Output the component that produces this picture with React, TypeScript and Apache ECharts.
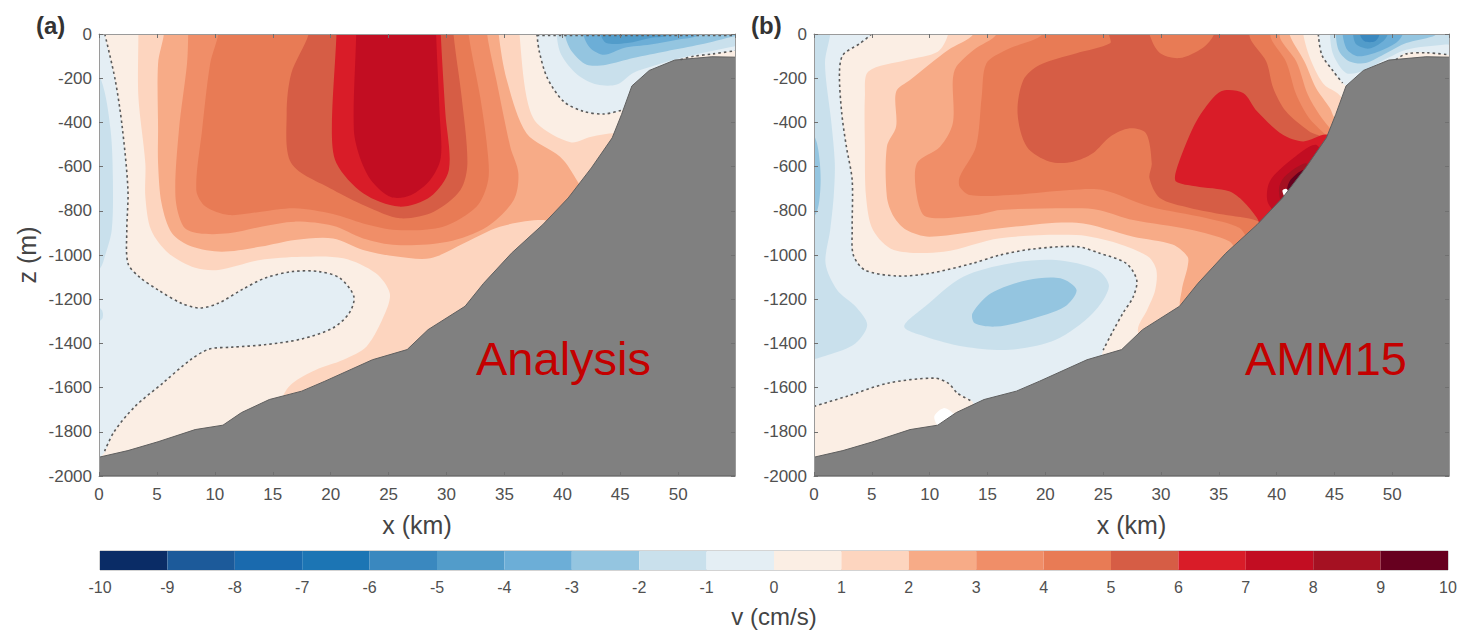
import React, { useEffect, useRef } from "react";
import * as echarts from "echarts";

type Pt = number[];

// v (cm/s) colour classes, one per interval from -10 to 10
const colorLevels = [-10, -9, -8, -7, -6, -5, -4, -3, -2, -1, 0, 1, 2, 3, 4, 5, 6, 7, 8, 9];
const levelColors = [
  "#0a2c66", "#1c5a9a", "#1a6aae", "#1c75b4", "#3a88bf", "#529cca", "#6caed7", "#94c5e0", "#c9e0ec", "#e4eef4",
  "#fbeee4", "#fdd5bf", "#f7ab87", "#f08e68", "#e87b55", "#d65d45", "#d91c28", "#c20d22", "#a51122", "#67001f",
];
const groundColor = "#808080";

// Sea floor, x (km), z (m)
const seaFloor: Pt[] = [
  [0, -1915], [2.5, -1885], [5.1, -1845], [8.3, -1790], [10.7, -1770], [12.3, -1713], [14.7, -1654], [17.5, -1616],
  [19.5, -1571], [23.6, -1474], [26.6, -1428], [28.4, -1338], [31.6, -1232], [33.2, -1128], [35.6, -992], [38.3, -863],
  [40.5, -742], [42.5, -606], [44.3, -470], [45.1, -365], [46, -235], [47.5, -165], [49.7, -118], [52.9, -103],
  [55, -105], [55, -2000], [0, -2000],
];
const fullPanel: Pt[] = [[0, 0], [55, 0], [55, -2000], [0, -2000]];

// Panel (a): filled contours
const a1: Pt[] = [[3.4, 100], [3.4, 0], [3.4, -284], [4, -585], [4, -736], [4.5, -887], [6, -992], [8.3, -1058], [10.3, -1068], [13.9, -1023], [17.5, -1008], [21.1, -1015], [23.9, -1083], [25.1, -1173], [24.7, -1263], [23.1, -1414], [21.1, -1474], [18.7, -1520], [16.7, -1580], [15.9, -1640], [16, -1750], [40, -1750], [50, -500], [44.8, -450], [42.5, -465], [40.7, -490], [37.8, -404], [36.9, -284], [36.3, 0], [36.3, 100]];
const a2: Pt[] = [[5.6, 100], [5.6, 0], [5.1, -133], [5.1, -434], [5.1, -585], [5.4, -766], [6.3, -902], [8, -962], [10.6, -985], [14, -962], [16.9, -932], [20.2, -925], [22.8, -977], [25.7, -1007], [28.6, -1015], [31.5, -947], [34.6, -872], [38.4, -842], [40, -880], [42, -760], [41, -640], [39.8, -555], [36.9, -449], [35.2, -208], [34.5, 0], [34.5, 100]];
const a3: Pt[] = [[7.7, 100], [7.7, 0], [7.6, -133], [6.9, -434], [6.6, -736], [7.3, -872], [8.6, -902], [11.2, -902], [14, -872], [16.9, -849], [20.2, -868], [22.8, -925], [25.7, -955], [30.1, -940], [33.5, -872], [35.8, -751], [36.2, -630], [35.5, -510], [34.3, -208], [33.5, 0], [33.5, 100]];
const a4: Pt[] = [[10.3, 100], [10.3, 0], [9.6, -133], [8.9, -434], [8.4, -706], [9.2, -781], [11.2, -819], [14, -804], [16.9, -789], [20.2, -815], [22.8, -857], [25.7, -887], [29.7, -872], [32.6, -781], [33.6, -660], [33.5, -510], [32.9, -284], [31.9, 0], [31.9, 100]];
const a5: Pt[] = [[18.1, 100], [18.1, 0], [16.6, -178], [16.2, -359], [16.6, -585], [20.2, -705], [23.1, -781], [26, -834], [28.9, -804], [31.2, -706], [31.8, -585], [31.3, -284], [30.6, 0], [30.6, 100]];
const a6: Pt[] = [[20.5, 100], [20.5, 0], [20.1, -434], [20.5, -585], [22.8, -721], [25.9, -781], [28.6, -736], [30.2, -615], [29.9, -359], [29.5, 0], [29.5, 100]];
const a7: Pt[] = [[22.2, 100], [22.2, 0], [22, -434], [22.6, -570], [23.6, -670], [25.2, -738], [26.9, -730], [28.6, -660], [29.5, -560], [29.4, -359], [29.1, 0], [29.1, 100]];
const aLeftZero: Pt[] = [[-1, 100], [0.5, 100], [0.5, 0], [1.4, -208], [2, -419], [2.5, -706], [2.4, -887], [2.5, -1038], [3.5, -1100], [5.1, -1158], [7.1, -1218], [8.7, -1240], [10.3, -1218], [12.3, -1158], [14.3, -1105], [16.7, -1075], [19, -1075], [20.8, -1105], [22, -1188], [21.6, -1263], [20.2, -1330], [17.5, -1380], [14.3, -1406], [11.5, -1417], [9.5, -1426], [7.9, -1474], [5.5, -1580], [3.1, -1686], [1.3, -1800], [0.4, -1898], [-1, -1950]];
const aLeftM1: Pt[] = [[-1, -150], [0.2, -210], [1, -434], [1.2, -660], [1.1, -887], [0.5, -1007], [0.1, -1060], [-1, -1100]];
const aLeftM1b: Pt[] = [[-1, -1200], [0.25, -1250], [0.25, -1290], [-1, -1330]];
const aRight0: Pt[] = [[37.8, 100], [37.8, 0], [38, -78], [38.7, -199], [40.1, -305], [41.8, -350], [43.6, -362], [45.1, -345], [46.5, -300], [48.5, -200], [50.2, -116], [51.3, -101], [53, -90], [55, -75], [56, -75], [56, 100]];
const aRight1: Pt[] = [[39.5, 100], [39.5, 0], [39.9, -94], [41.3, -184], [43, -229], [44.7, -229], [46.1, -176], [48.2, -139], [50.8, -101], [54.8, -56], [56, -50], [56, 100]];
const aRight2: Pt[] = [[40.2, 100], [40.2, 0], [40.8, -78], [42.1, -139], [43.8, -139], [46.1, -109], [49, -78], [51.9, -48], [54.8, -11], [56, -5], [56, 100]];
const aRight3: Pt[] = [[41.8, 100], [41.8, 0], [42.4, -63], [43.6, -94], [45.3, -63], [47.6, -48], [49.9, -26], [51.9, 0], [52, 100]];
const aRight4: Pt[] = [[43.3, 100], [43.3, 0], [43.8, -41], [45.6, -41], [47.6, -18], [49.3, 0], [49.3, 100]];

// Panel (a): zero contours
const aDashMain: Pt[] = [[0.5, 0], [1.4, -208], [2, -419], [2.5, -706], [2.4, -887], [2.5, -1038], [3.5, -1100], [5.1, -1158], [7.1, -1218], [8.7, -1240], [10.3, -1218], [12.3, -1158], [14.3, -1105], [16.7, -1075], [19, -1075], [20.8, -1105], [22, -1188], [21.6, -1263], [20.2, -1330], [17.5, -1380], [14.3, -1406], [11.5, -1417], [9.5, -1426], [7.9, -1474], [5.5, -1580], [3.1, -1686], [1.3, -1800], [0.4, -1898]];
const aDashRight: Pt[] = [[37.8, 0], [38, -78], [38.7, -199], [40.1, -305], [41.8, -350], [43.6, -362], [45.1, -345]];
const aDashShelf: Pt[] = [[50.2, -116], [51.3, -101], [53, -90], [55, -75]];
const aDashSurface: Pt[] = [[37.8, -6], [46, -6], [55, -6]];

// Panel (b): filled contours
const b1: Pt[] = [[11.6, 100], [11.6, 0], [10.7, -80], [8, -118], [4.7, -170], [4.4, -284], [4.4, -510], [4.5, -736], [5.1, -887], [6.9, -977], [11.2, -985], [16.1, -924], [22.7, -910], [26.2, -947], [28.9, -1008], [29.6, -1068], [29.5, -1158], [28.8, -1249], [28, -1340], [29, -1450], [45, -900], [47, -400], [45.4, -275], [44.1, -229], [43, -124], [42.3, 0], [42.3, 100]];
const b2: Pt[] = [[13.8, 100], [13.8, 0], [11.6, -72], [8.3, -208], [7.1, -261], [7.1, -419], [6.3, -510], [6.3, -736], [6.9, -827], [8, -887], [10, -917], [16.1, -879], [22.7, -854], [27.6, -917], [31, -953], [32.3, -1008], [32.3, -1053], [31.8, -1158], [31.8, -1240], [40, -1100], [47, -500], [45, -380], [44.6, -335], [43.4, -244], [42.4, -124], [41.1, 0], [41.1, 100]];
const b3: Pt[] = [[15.8, 100], [15.8, 0], [13.8, -72], [12.3, -148], [12, -208], [12, -404], [10.9, -510], [8.9, -585], [8.9, -736], [9.7, -827], [14, -819], [16.1, -796], [22.7, -789], [24.7, -797], [27.6, -842], [32.5, -885], [35.9, -938], [37, -1000], [45, -700], [46, -500], [44.6, -425], [43.7, -365], [42.7, -275], [41.7, -124], [40.3, -18], [40.1, 100]];
const b4: Pt[] = [[19.8, 100], [19.8, 0], [16.6, -72], [14.9, -133], [14.5, -284], [14, -510], [12.6, -646], [12.6, -691], [13.5, -729], [16.9, -729], [22.1, -706], [25, -706], [29, -781], [33.9, -833], [36.8, -878], [38, -950], [45, -700], [45, -500], [43.9, -440], [42.8, -380], [41.7, -275], [40.8, -124], [39.5, -18], [39.3, 100]];
const b5: Pt[] = [[25.5, 100], [25.5, 0], [25.6, -42], [22.7, -87], [19.5, -140], [18.1, -208], [17.6, -359], [18.4, -510], [20.4, -578], [22.4, -578], [24.1, -540], [25.6, -465], [27.3, -427], [28.7, -449], [29.2, -585], [29, -652], [29.9, -742], [32.5, -787], [35.4, -817], [38.3, -845], [40, -900], [46, -600], [44, -470], [42.8, -440], [40.8, -350], [39.7, -244], [39.1, -124], [37.7, -18], [37.5, 100], [34.8, 100], [34.6, 0], [33.6, -63], [31.6, -109], [29.9, -86], [29, 0], [28.8, 100]];
const b6: Pt[] = [[35.2, -259], [37.1, -267], [38.3, -350], [40.5, -455], [42.3, -486], [44.3, -455], [46, -500], [42, -750], [39, -900], [38.3, -833], [37.1, -757], [35.9, -712], [33, -689], [31.3, -667], [31.3, -621], [32.5, -455], [33.6, -350]];
const b7: Pt[] = [[43.4, -501], [41.1, -576], [39.4, -667], [39.2, -757], [40, -800], [44, -600]];
const b8: Pt[] = [[42.5, -585], [40.7, -645], [40.2, -700], [40.5, -760], [43, -630]];
const b9: Pt[] = [[42.3, -615], [41.2, -660], [40.9, -705], [41.2, -735], [42.8, -640]];
const bGapUpper: Pt[] = [[40.5, -708], [40.8, -700], [41, -712], [40.7, -735]];
const bGapLower: Pt[] = [[10.4, -1730], [11.2, -1693], [12, -1715], [12.2, -1740], [10.8, -1775]];
const bMainZero: Pt[] = [[-1, 100], [5.1, 100], [5, 0], [4, -42], [2.5, -95], [2.2, -178], [2.4, -359], [2.8, -510], [3.3, -661], [3.3, -887], [3.4, -1000], [4.4, -1068], [7.2, -1095], [10, -1083], [13.7, -1038], [16.1, -1000], [18.9, -973], [22.7, -962], [24.7, -992], [27, -1038], [27.9, -1113], [27.6, -1189], [26.7, -1264], [25.9, -1339], [25, -1430], [24.5, -1510], [14, -1720], [13.7, -1663], [12.4, -1625], [11.6, -1580], [10.4, -1557], [6.4, -1580], [2.8, -1640], [0, -1685], [-1, -1700]];
const bLeftM1: Pt[] = [[-1, 100], [1.4, 100], [1.4, 0], [0.95, -133], [1.5, -400], [1.8, -585], [1.7, -736], [1.4, -887], [1, -1038], [2, -1158], [3.6, -1233], [4.6, -1316], [3.6, -1399], [1.2, -1452], [-1, -1465]];
const bLeftM2: Pt[] = [[-1, -400], [0.1, -470], [0.5, -580], [0.55, -700], [0.2, -810], [-1, -880]];
const bLensM1: Pt[] = [[7.8, -1324], [9.6, -1233], [12.9, -1098], [16.9, -1038], [20.9, -1023], [24.5, -1068], [25.5, -1143], [24.1, -1264], [20.9, -1384], [16.9, -1429], [12.9, -1414], [9.6, -1369]];
const bLensM2: Pt[] = [[13.7, -1264], [15.3, -1173], [18.5, -1113], [21.3, -1105], [22.7, -1158], [21.7, -1233], [18.5, -1294], [15.7, -1324], [13.9, -1309]];
const bRight0: Pt[] = [[43.6, 100], [43.6, 0], [43.9, -94], [44.9, -169], [45.7, -222], [47, -260], [49, -180], [50.3, -116], [51.2, -86], [53, -85], [55, -95], [56, -95], [56, 100]];
const bRight1: Pt[] = [[44.6, 100], [44.6, 0], [44.9, -94], [46, -176], [47.4, -169], [49.6, -109], [51.2, -71], [54.6, -48], [56, -45], [56, 100]];
const bRight2: Pt[] = [[45.1, 100], [45.1, 0], [45.4, -78], [46.3, -124], [47.7, -131], [49.5, -86], [51.2, -41], [53.5, -11], [53.8, 0], [54, 100]];
const bRight3: Pt[] = [[45.7, 100], [45.7, 0], [46.1, -71], [47.1, -101], [48.9, -78], [50.3, -41], [50.9, 0], [51, 100]];
const bRight4: Pt[] = [[46.6, 100], [46.6, 0], [46.9, -48], [48, -66], [49.2, -33], [49.6, 0], [49.6, 100]];
const bRight5: Pt[] = [[47.2, 100], [47.2, 0], [47.6, -33], [48.5, -33], [48.9, 0], [48.9, 100]];

// Panel (b): zero contours
const bDashMain: Pt[] = [[5, 0], [4, -42], [2.5, -95], [2.2, -178], [2.4, -359], [2.8, -510], [3.3, -661], [3.3, -887], [3.4, -1000], [4.4, -1068], [7.2, -1095], [10, -1083], [13.7, -1038], [16.1, -1000], [18.9, -973], [22.7, -962], [24.7, -992], [27, -1038], [27.9, -1113], [27.6, -1189], [26.7, -1264], [25.9, -1339], [25, -1430]];
const bDashLower: Pt[] = [[0, -1685], [2.8, -1640], [6.4, -1580], [10.4, -1557], [11.6, -1580], [12.4, -1625], [13.7, -1663]];
const bDashRight: Pt[] = [[43.6, 0], [43.9, -94], [44.9, -169], [45.7, -222]];
const bDashShelf: Pt[] = [[50.3, -116], [51.2, -90], [53, -85], [55, -95]];

type Layer = { points: Pt[]; level?: number; fill?: string; kind: "area" | "ground" | "dash" };
const area = (points: Pt[], level: number): Layer => ({ points, level, kind: "area" });
const dash = (points: Pt[]): Layer => ({ points, kind: "dash" });

const panelALayers: Layer[] = [
  area(fullPanel, 0), area(a1, 1), area(a2, 2), area(a3, 3), area(a4, 4), area(a5, 5), area(a6, 6), area(a7, 7),
  area(aLeftZero, -1), area(aLeftM1, -2), area(aLeftM1b, -2),
  area(aRight0, -1), area(aRight1, -2), area(aRight2, -3), area(aRight3, -4), area(aRight4, -5),
  { points: seaFloor, kind: "ground" },
  dash(aDashMain), dash(aDashRight), dash(aDashShelf), dash(aDashSurface),
];
const panelBLayers: Layer[] = [
  area(fullPanel, 0), area(b1, 1), area(b2, 2), area(b3, 3), area(b4, 4), area(b5, 5), area(b6, 6), area(b7, 7), area(b8, 8), area(b9, 9),
  { points: bGapUpper, fill: "#ffffff", kind: "area" },
  area(bMainZero, -1), area(bLeftM1, -2), area(bLeftM2, -3), area(bLensM1, -2), area(bLensM2, -3),
  area(bRight0, -1), area(bRight1, -2), area(bRight2, -3), area(bRight3, -4), area(bRight4, -5), area(bRight5, -6),
  { points: bGapLower, fill: "#ffffff", kind: "area" },
  { points: seaFloor, kind: "ground" },
  dash(bDashMain), dash(bDashLower), dash(bDashRight), dash(bDashShelf),
];

const colorOf = (level: number) => levelColors[colorLevels.indexOf(level)];

const contourRenderer = (layers: Layer[]) => (params: any, api: any) => {
  const layer = layers[params.dataIndex];
  const points = layer.points.map((p) => api.coord(p));
  if (layer.kind === "dash") {
    return {
      type: "polyline",
      shape: { points, smooth: 0.3 },
      style: { stroke: "#5a5a5a", fill: "none", lineWidth: 1.6, lineDash: [2.5, 3] },
    };
  }
  if (layer.kind === "ground") {
    return {
      type: "polygon",
      shape: { points },
      style: { fill: groundColor, stroke: "#5f5f5f", lineWidth: 1 },
    };
  }
  const isRect = layer.points === fullPanel;
  const fill = layer.fill ?? colorOf(layer.level as number);
  return {
    type: "polygon",
    shape: { points, smooth: isRect ? 0 : 0.3 },
    style: { fill },
  };
};

const contourSeries = (layers: Layer[], axisIndex: number) => ({
  type: "custom",
  xAxisIndex: axisIndex,
  yAxisIndex: axisIndex,
  clip: true,
  silent: true,
  renderItem: contourRenderer(layers),
  data: layers.map((l) => l.points[0]),
});

const FONT = '"Liberation Sans", Arial, sans-serif';
const TEXT_GRAY = "#505050";
const LINE_GRAY = "#9a9a9a";

const xBottom = (gridIndex: number) => ({
  type: "value",
  gridIndex,
  min: 0,
  max: 54.9,
  interval: 5,
  z: 10,
  name: "x (km)",
  nameLocation: "middle",
  nameGap: 36,
  nameTextStyle: { fontFamily: FONT, fontSize: 25, color: "#444" },
  axisLine: { show: true, onZero: false, lineStyle: { color: LINE_GRAY, width: 1 } },
  axisTick: { show: true, inside: true, length: 4, lineStyle: { color: "#707070" } },
  splitLine: { show: false },
  axisLabel: {
    margin: 10,
    fontFamily: FONT,
    fontSize: 17,
    color: TEXT_GRAY,
    showMaxLabel: false,
    formatter: (v: number) => (v % 5 === 0 ? String(v) : ""),
  },
});
const xTop = (gridIndex: number) => ({
  type: "value",
  gridIndex,
  position: "top",
  min: 0,
  max: 54.9,
  interval: 5,
  z: 10,
  axisLine: { show: true, onZero: false, lineStyle: { color: LINE_GRAY, width: 1 } },
  axisTick: { show: true, inside: true, length: 4, lineStyle: { color: "#707070" } },
  axisLabel: { show: false },
  splitLine: { show: false },
});
const yLeft = (gridIndex: number, name: string) => ({
  type: "value",
  gridIndex,
  min: -2000,
  max: 0,
  interval: 200,
  z: 10,
  name,
  nameLocation: "middle",
  nameGap: 60,
  nameRotate: 90,
  nameTextStyle: { fontFamily: FONT, fontSize: 25, color: "#444" },
  axisLine: { show: true, onZero: false, lineStyle: { color: LINE_GRAY, width: 1 } },
  axisTick: { show: true, inside: true, length: 4, lineStyle: { color: "#707070" } },
  splitLine: { show: false },
  axisLabel: { margin: 7, fontFamily: FONT, fontSize: 17, color: TEXT_GRAY, formatter: (v: number) => String(v) },
});
const yRight = (gridIndex: number) => ({
  type: "value",
  gridIndex,
  position: "right",
  min: -2000,
  max: 0,
  interval: 200,
  z: 10,
  axisLine: { show: true, onZero: false, lineStyle: { color: LINE_GRAY, width: 1 } },
  axisTick: { show: true, inside: true, length: 4, lineStyle: { color: "#707070" } },
  axisLabel: { show: false },
  splitLine: { show: false },
});

const panelLabels = [
  { text: "(a)", x: 36, y: 25 },
  { text: "(b)", x: 751, y: 25 },
];
const runLabels = [
  { text: "Analysis", x: 476, y: 358 },
  { text: "AMM15", x: 1245, y: 358 },
];

export default function App() {
  const ref = useRef<HTMLDivElement>(null);
  useEffect(() => {
    if (!ref.current) return;
    const chart = echarts.init(ref.current, undefined, { renderer: "svg" });
    chart.setOption({
      animation: false,
      backgroundColor: "#ffffff",
      grid: [
        { left: 99, top: 34, width: 636, height: 442, outerBoundsMode: "none" },
        { left: 814, top: 34, width: 635, height: 442, outerBoundsMode: "none" },
        { left: 100, top: 551, width: 1348, height: 19, show: true, borderColor: "#a8a8a8", borderWidth: 1, outerBoundsMode: "none" },
      ],
      xAxis: [
        xBottom(0), xTop(0), xBottom(1), xTop(1),
        {
          type: "value",
          gridIndex: 2,
          min: -10,
          max: 10,
          interval: 1,
          z: 10,
          name: "v (cm/s)",
          nameLocation: "middle",
          nameGap: 34,
          nameTextStyle: { fontFamily: FONT, fontSize: 24, color: "#444" },
          axisLine: { show: false },
          axisTick: { show: false },
          splitLine: { show: false },
          axisLabel: { margin: 9, fontFamily: FONT, fontSize: 16, color: TEXT_GRAY, showMinLabel: true, showMaxLabel: true },
        },
      ],
      yAxis: [
        yLeft(0, "z (m)"), yRight(0), yLeft(1, ""), yRight(1),
        { type: "value", gridIndex: 2, min: 0, max: 1, show: false },
      ],
      series: [
        { ...contourSeries(panelALayers, 0), xAxisIndex: 0, yAxisIndex: 0 },
        { ...contourSeries(panelBLayers, 2), xAxisIndex: 2, yAxisIndex: 2 },
        {
          type: "custom",
          xAxisIndex: 4,
          yAxisIndex: 4,
          silent: true,
          data: colorLevels.map((lo) => [lo, lo + 1]),
          renderItem: (_p: any, api: any) => {
            const a = api.coord([api.value(0), 1]);
            const b = api.coord([api.value(1), 0]);
            return {
              type: "rect",
              shape: { x: a[0], y: a[1], width: b[0] - a[0], height: b[1] - a[1] },
              style: { fill: levelColors[colorLevels.indexOf(api.value(0))] },
            };
          },
        },
      ],
      graphic: [
        ...panelLabels.map((l) => ({
          type: "text",
          x: l.x,
          y: l.y,
          z: 20,
          style: { text: l.text, fontFamily: FONT, fontWeight: "bold", fontSize: 24, fill: "#333", textVerticalAlign: "middle" },
        })),
        ...runLabels.map((l) => ({
          type: "text",
          x: l.x,
          y: l.y,
          z: 20,
          style: { text: l.text, fontFamily: FONT, fontSize: 47, fill: "#c40000", textVerticalAlign: "middle" },
        })),
      ],
    });
    return () => chart.dispose();
  }, []);
  return <div ref={ref} style={{ position: "absolute", left: 0, top: 0, width: 1461, height: 630 }} />;
}
